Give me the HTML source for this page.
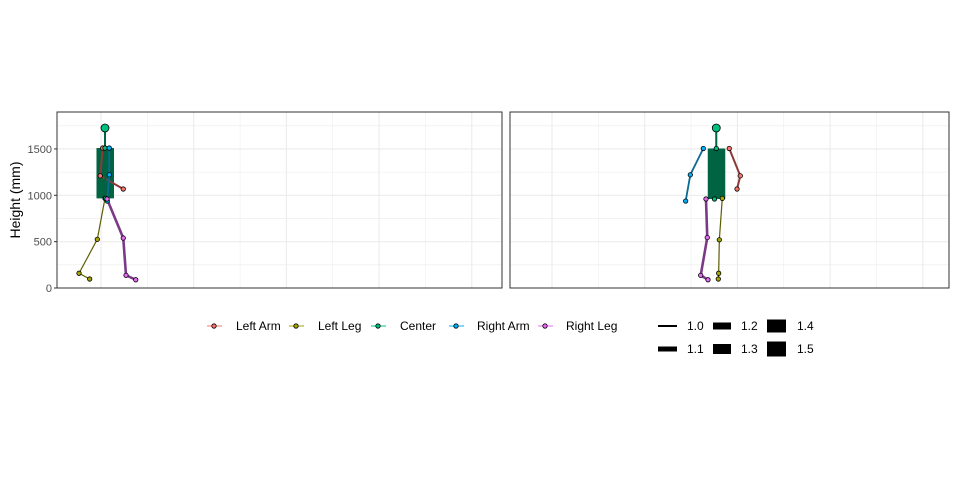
<!DOCTYPE html>
<html><head><meta charset="utf-8"><style>
html,body{margin:0;padding:0;background:#fff;}
svg text{font-family:"Liberation Sans",Arial,sans-serif;}
</style></head><body>
<svg id="chart" width="960" height="480" xmlns="http://www.w3.org/2000/svg"></svg>
<script>
const yTicks = [0, 500, 1000, 1500];
const groups = ["Left Arm", "Left Leg", "Center", "Right Arm", "Right Leg"];
const sizeLabels = ["1.0", "1.1", "1.2", "1.3", "1.4", "1.5"];
// Frame 1 (left panel) joint coordinates in mm
const f1LeftArmX = [18, -8, 240];   const f1LeftArmY = [1510, 1210, 1068];
const f1RightArmX = [89, 89, 68];   const f1RightArmY = [1510, 1221, 938];
const f1LeftLegX = [43, -40, -237, -122]; const f1LeftLegY = [967, 525, 159, 97];
const f1RightLegX = [65, 240, 270, 375];  const f1RightLegY = [960, 539, 137, 89];
const f1CenterX = [43, 43, 50];     const f1CenterY = [1726, 1510, 967];
// Frame 2 (right panel)
const f2LeftArmX = [1912, 2031, 1996]; const f2LeftArmY = [1505, 1210, 1068];
const f2RightArmX = [1632, 1492, 1442]; const f2RightArmY = [1505, 1221, 938];
const f2LeftLegX = [1837, 1805, 1798, 1794]; const f2LeftLegY = [967, 520, 159, 97];
const f2RightLegX = [1661, 1675, 1604, 1683]; const f2RightLegY = [960, 544, 137, 89];
const f2CenterX = [1772, 1772, 1753]; const f2CenterY = [1726, 1505, 960];

const NS = "http://www.w3.org/2000/svg";
const svg = document.getElementById("chart");
function mk(tag, attrs, parent) {
  const e = document.createElementNS(NS, tag);
  for (const k in attrs) e.setAttribute(k, attrs[k]);
  (parent || svg).appendChild(e);
  return e;
}
const K = 0.0927;
const yS = v => 288 - v * K;
const panels = [
  {x0: 57, x1: 502, ox: 101, d: [f1LeftArmX,f1LeftArmY,f1LeftLegX,f1LeftLegY,f1CenterX,f1CenterY,f1RightArmX,f1RightArmY,f1RightLegX,f1RightLegY]},
  {x0: 510, x1: 949, ox: 552, d: [f2LeftArmX,f2LeftArmY,f2LeftLegX,f2LeftLegY,f2CenterX,f2CenterY,f2RightArmX,f2RightArmY,f2RightLegX,f2RightLegY]}
];
const lineCol = ["#8b3a3a", "#5c5c00", "#006341", "#0a6a92", "#7a3a88"];
const fillCol = ["#F8766D", "#A3A500", "#00BF7D", "#00B0F6", "#E76BF3"];
const lw = [2, 1.2, 2, 1.8, 2.6];

panels.forEach((p, pi) => {
  const g = mk("g", {});
  
  
  for (let v = 0; v <= 1750; v += 250) {
    const y = yS(v); if (y < 112) continue;
    mk("line", {x1: p.x0, x2: p.x1, y1: y, y2: y, stroke: "#ebebeb", "stroke-width": v % 500 ? 0.6 : 1.1}, g);
  }
  for (let v = -2000; v <= 6000; v += 500) {
    const x = p.ox + v * K; if (x <= p.x0 || x >= p.x1) continue;
    mk("line", {x1: x, x2: x, y1: 112, y2: 288, stroke: "#ebebeb", "stroke-width": v % 1000 ? 0.5 : 1.1}, g);
  }
  const xS = v => p.ox + v * K;
  const cx = p.d[4], cy = p.d[5];
  const body = mk("rect", {x: xS(cx[1]) - 8.5, y: yS(cy[1]), width: 17.5, height: yS(cy[2]) - yS(cy[1]), fill: "#006341"}, g);
  
  
  const order = [0, 1, 2, 3, 4];
  order.forEach(gi => {
    const xs = p.d[gi * 2], ys = p.d[gi * 2 + 1];
    const pts = xs.map((v, i) => xS(v) + "," + yS(ys[i])).join(" ");
    const pl = mk("polyline", {points: pts, fill: "none", stroke: lineCol[gi], "stroke-width": lw[gi]}, g);
    
    
  });
  order.forEach(gi => {
    const xs = p.d[gi * 2], ys = p.d[gi * 2 + 1];
    xs.forEach((v, i) => {
      const r = (gi === 2 && i === 0) ? 4 : 2.2;
      const c = mk("circle", {cx: xS(v), cy: yS(ys[i]), r: r, fill: fillCol[gi], stroke: "#000", "stroke-width": 0.8}, g);
      
      
    });
  });
  mk("rect", {x: p.x0, y: 112, width: p.x1 - p.x0, height: 176, fill: "none", stroke: "#333", "stroke-width": 1}, g);
});

yTicks.forEach(v => {
  const y = yS(v);
  mk("line", {x1: 54, x2: 57, y1: y, y2: y, stroke: "#333"});
  const t = mk("text", {x: 52, y: y + 4, "text-anchor": "end", "font-size": 11, fill: "#4d4d4d"});
  t.textContent = v;
  
  
});
const yt = mk("text", {x: 0, y: 0, transform: "translate(20,200) rotate(-90)", "text-anchor": "middle", "font-size": 14, fill: "#000"});
yt.textContent = "Height (mm)";



const legX = [214, 296, 378, 456, 545];
const legTX = [236, 318, 400, 477, 566];
groups.forEach((gname, i) => {
  const g = mk("g", {});
  
  
  mk("line", {x1: legX[i] - 7, x2: legX[i] + 8, y1: 326, y2: 326, stroke: fillCol[i], "stroke-width": 1}, g);
  mk("circle", {cx: legX[i], cy: 326, r: 2.2, fill: fillCol[i], stroke: "#000", "stroke-width": 0.8}, g);
  const t = mk("text", {x: legTX[i], y: 330, "font-size": 12, fill: "#000"}, g);
  t.textContent = gname;
});
const sX = [658, 658, 713, 713, 767, 767];
const sY = [326, 349, 326, 349, 326, 349];
const sH = [2, 5, 7, 10, 13, 15];
const sW = [19, 19, 18, 18, 19, 19];
const sTX = [687, 687, 741, 741, 797, 797];
sizeLabels.forEach((lab, i) => {
  const g = mk("g", {});
  
  
  mk("rect", {x: sX[i], y: sY[i] - sH[i] / 2, width: sW[i], height: sH[i], fill: "#000"}, g);
  const t = mk("text", {x: sTX[i], y: sY[i] + 4, "font-size": 12, fill: "#000"}, g);
  t.textContent = lab;
});
</script>
</body></html>
